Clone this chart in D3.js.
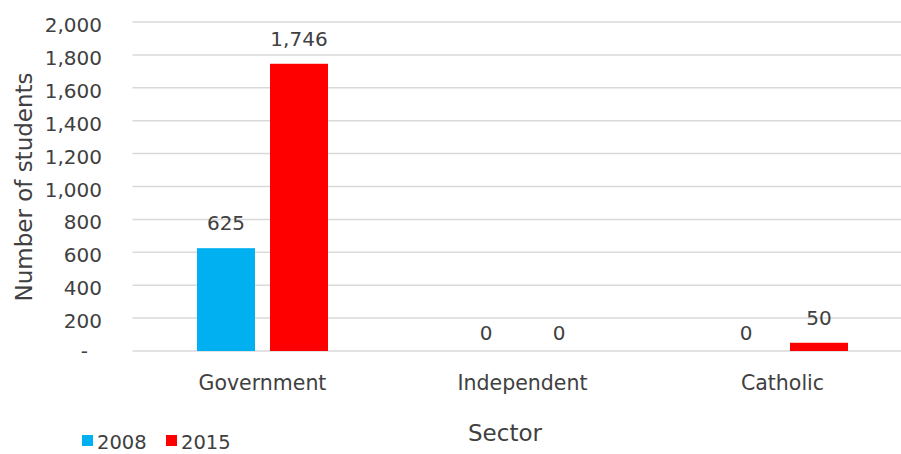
<!DOCTYPE html>
<html>
<head>
<meta charset="utf-8">
<script src="https://cdn.jsdelivr.net/npm/d3@7"></script>
<style>
  html, body { margin: 0; padding: 0; background: #fff; }
  svg { display: block; font-family: "DejaVu Sans", Verdana, sans-serif; }
</style>
</head>
<body>
<svg id="chart" width="901" height="454"></svg>
<script>
// Students by school sector, 2008 vs 2015
const sectors = ["Government", "Independent", "Catholic"];
const years = ["2008", "2015"];
const values2008 = [625, 0, 0];
const values2015 = [1746, 0, 50];
const yTicks = [0, 200, 400, 600, 800, 1000, 1200, 1400, 1600, 1800, 2000];
const colors = ["#00B0F0", "#FF0000"];

const seriesValues = [values2008, values2015];
const textColor = "#404040";
const gridColor = "#d9d9d9";

const svg = d3.select("#chart");

const x0 = d3.scaleBand().domain(sectors).range([132.5, 912.5]).paddingInner(0).paddingOuter(0);
const y = d3.scaleLinear().domain([0, 2000]).range([351, 22]);

const barW = 58, gap = 15;
const offset = i => (i === 0 ? -(gap / 2 + barW) : gap / 2);

// gridlines
svg.append("g")
  .selectAll("line")
  .data(yTicks)
  .join("line")
  .attr("x1", 132.5)
  .attr("x2", 901)
  .attr("y1", d => y(d))
  .attr("y2", d => y(d))
  .attr("stroke", gridColor)
  .attr("stroke-width", 1.5);

// y tick labels
const fmt = d3.format(",");
svg.append("g")
  .selectAll("text")
  .data(yTicks)
  .join("text")
  .attr("x", d => (d === 0 ? 88 : 102))
  .attr("y", d => y(d))
  .attr("dy", d => (d === 0 ? "0.35em" : "0.5em"))
  .attr("text-anchor", "end")
  .attr("font-size", 20)
  .attr("fill", textColor)
  .text(d => (d === 0 ? "-" : fmt(d)));

// bars
years.forEach((yr, i) => {
  const g = svg.append("g");
  g.selectAll("rect")
    .data(sectors)
    .join("rect")
    .attr("x", (s) => x0(s) + x0.bandwidth() / 2 + offset(i))
    .attr("width", barW)
    .attr("y", (s, j) => y(seriesValues[i][j]))
    .attr("height", (s, j) => y(0) - y(seriesValues[i][j]))
    .attr("fill", colors[i]);

  g.selectAll("text")
    .data(sectors)
    .join("text")
    .attr("x", (s) => x0(s) + x0.bandwidth() / 2 + offset(i) + barW / 2)
    .attr("y", (s, j) => y(seriesValues[i][j]) - (seriesValues[i][j] === 0 ? 11 : 18))
    .attr("text-anchor", "middle")
    .attr("font-size", 20)
    .attr("fill", textColor)
    .text((s, j) => fmt(seriesValues[i][j]));
});

// category labels
svg.append("g")
  .selectAll("text")
  .data(sectors)
  .join("text")
  .attr("x", s => x0(s) + x0.bandwidth() / 2)
  .attr("y", 390)
  .attr("text-anchor", "middle")
  .attr("font-size", 20.5)
  .attr("fill", textColor)
  .text(s => s);

// axis titles
svg.append("text")
  .attr("transform", "translate(32,187) rotate(-90)")
  .attr("text-anchor", "middle")
  .attr("font-size", 23)
  .attr("fill", textColor)
  .text("Number of students");

svg.append("text")
  .attr("x", 505)
  .attr("y", 441)
  .attr("text-anchor", "middle")
  .attr("font-size", 23)
  .attr("fill", textColor)
  .text("Sector");

// legend
const legendX = [82, 166];
const legend = svg.append("g");
years.forEach((yr, i) => {
  legend.append("rect")
    .attr("x", legendX[i])
    .attr("y", 435)
    .attr("width", 11)
    .attr("height", 11)
    .attr("fill", colors[i]);
  legend.append("text")
    .attr("x", legendX[i] + 15)
    .attr("y", 449)
    .attr("font-size", 19.5)
    .attr("fill", textColor)
    .text(yr);
});
</script>
</body>
</html>
